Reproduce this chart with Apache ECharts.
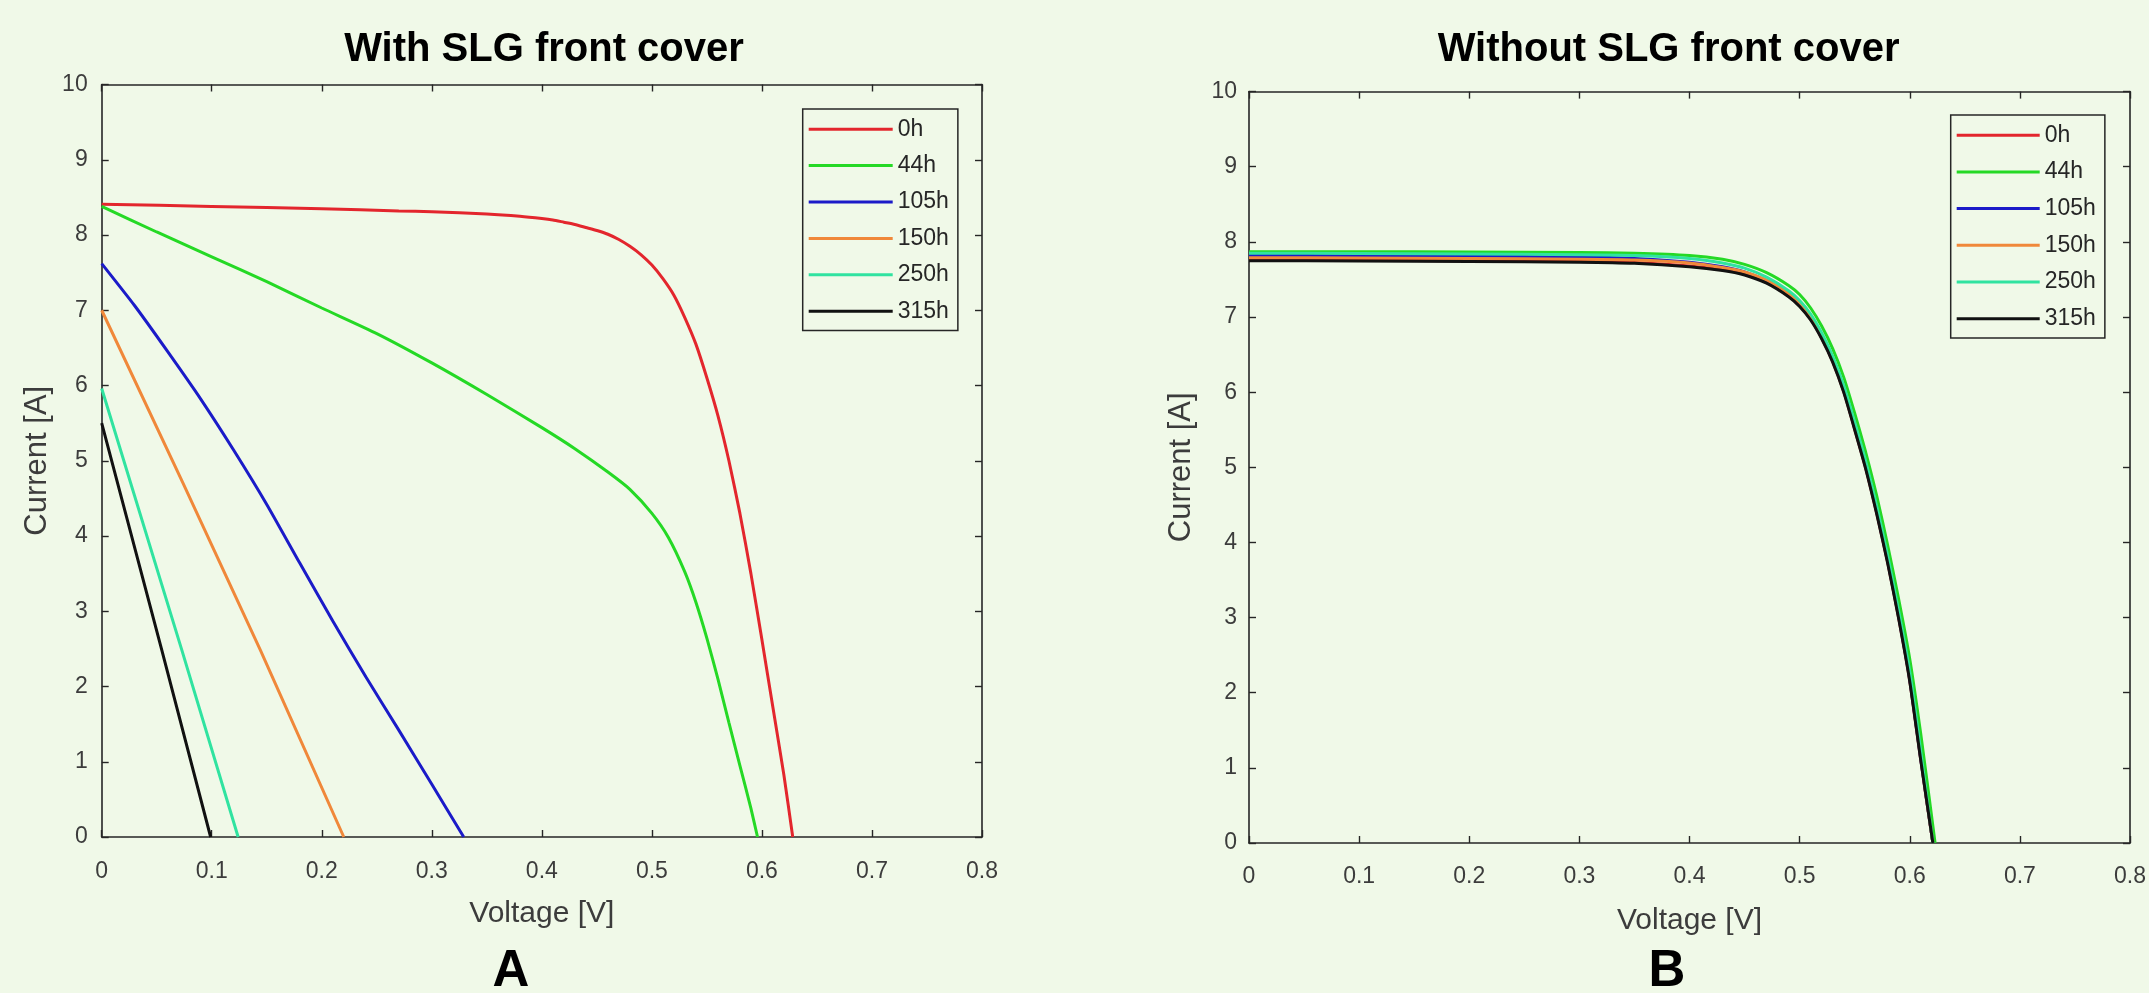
<!DOCTYPE html>
<html>
<head>
<meta charset="utf-8">
<script src="https://cdn.jsdelivr.net/npm/echarts@6/dist/echarts.min.js"></script>
<style>
html,body{margin:0;padding:0;background:#f0f9e8;}
#c{width:2149px;height:993px;}
</style>
</head>
<body>
<div id="c"></div>
<script>
// ---------- data ----------
const seriesNames = ['0h', '44h', '105h', '150h', '250h', '315h'];
const seriesColors = ['#e3262d', '#25d925', '#1b1bc8', '#f0883a', '#30e3a0', '#111111'];

const xTickLabels = ['0', '0.1', '0.2', '0.3', '0.4', '0.5', '0.6', '0.7', '0.8'];
const yTickLabels = ['0', '1', '2', '3', '4', '5', '6', '7', '8', '9', '10'];

const panelTitles = ['With SLG front cover', 'Without SLG front cover'];
const panelLetters = ['A', 'B'];
const xAxisName = 'Voltage [V]';
const yAxisName = 'Current [A]';

// Panel A (with SLG front cover)
const aV_0h   = [0, 0.1, 0.2, 0.27, 0.3, 0.35, 0.38, 0.40, 0.41, 0.42, 0.43, 0.44, 0.45, 0.46, 0.47, 0.48, 0.49, 0.50, 0.51, 0.52, 0.53, 0.54, 0.55, 0.56, 0.57, 0.58, 0.59, 0.60, 0.61, 0.62, 0.628];
const aI_0h   = [8.41, 8.38, 8.35, 8.32, 8.31, 8.28, 8.25, 8.22, 8.20, 8.17, 8.14, 8.10, 8.06, 8.01, 7.94, 7.85, 7.74, 7.60, 7.42, 7.20, 6.90, 6.55, 6.10, 5.60, 5.00, 4.30, 3.50, 2.62, 1.72, 0.82, 0];
const aV_44h  = [0, 0.05, 0.1, 0.15, 0.2, 0.25, 0.3, 0.35, 0.4, 0.43, 0.46, 0.48, 0.50, 0.515, 0.53, 0.54, 0.55, 0.56, 0.57, 0.58, 0.59, 0.596];
const aI_44h  = [8.38, 8.04, 7.71, 7.38, 7.03, 6.69, 6.30, 5.88, 5.44, 5.16, 4.85, 4.62, 4.30, 3.98, 3.52, 3.12, 2.64, 2.10, 1.52, 0.95, 0.38, 0];
const aV_105h = [0, 0.03, 0.06, 0.09, 0.12, 0.15, 0.18, 0.21, 0.24, 0.27, 0.30, 0.329];
const aI_105h = [7.62, 7.06, 6.45, 5.82, 5.14, 4.42, 3.64, 2.87, 2.13, 1.42, 0.70, 0];
const aV_150h = [0, 0.074, 0.144, 0.22];
const aI_150h = [7.0, 4.70, 2.49, 0];
const aV_250h = [0, 0.0727, 0.124];
const aI_250h = [5.96, 2.49, 0];
const aV_315h = [0, 0.0545, 0.099];
const aI_315h = [5.5, 2.49, 0];

// Panel B (without SLG front cover)
const bV_common = [0, 0.1, 0.2, 0.3, 0.35, 0.4, 0.43, 0.45, 0.47, 0.49, 0.50, 0.51, 0.52, 0.53, 0.54, 0.55, 0.56, 0.57, 0.58, 0.59, 0.60, 0.61, 0.621];
const bV_44h    = [0, 0.1, 0.2, 0.3, 0.35, 0.4, 0.43, 0.45, 0.47, 0.49, 0.50, 0.51, 0.52, 0.53, 0.54, 0.55, 0.56, 0.57, 0.58, 0.59, 0.60, 0.61, 0.623];
const bI_0h   = [7.76, 7.755, 7.75, 7.74, 7.725, 7.68, 7.63, 7.57, 7.46, 7.28, 7.15, 6.97, 6.72, 6.41, 6.01, 5.51, 4.99, 4.39, 3.73, 2.99, 2.16, 1.11, 0];
const bI_44h  = [7.87, 7.87, 7.865, 7.86, 7.85, 7.82, 7.77, 7.70, 7.59, 7.42, 7.30, 7.12, 6.88, 6.58, 6.20, 5.72, 5.20, 4.62, 3.96, 3.24, 2.45, 1.45, 0];
const bI_105h = [7.82, 7.815, 7.81, 7.80, 7.78, 7.73, 7.67, 7.60, 7.48, 7.30, 7.17, 6.99, 6.74, 6.43, 6.03, 5.53, 5.01, 4.41, 3.75, 3.01, 2.18, 1.12, 0];
const bI_150h = [7.79, 7.785, 7.78, 7.77, 7.76, 7.72, 7.66, 7.60, 7.49, 7.31, 7.19, 7.01, 6.76, 6.45, 6.05, 5.55, 5.03, 4.43, 3.77, 3.03, 2.20, 1.14, 0];
const bI_250h = [7.85, 7.845, 7.84, 7.83, 7.82, 7.78, 7.72, 7.65, 7.53, 7.35, 7.22, 7.04, 6.79, 6.48, 6.09, 5.60, 5.08, 4.48, 3.82, 3.08, 2.28, 1.22, 0];
const bI_315h = [7.75, 7.745, 7.74, 7.73, 7.715, 7.67, 7.62, 7.56, 7.45, 7.27, 7.14, 6.96, 6.71, 6.40, 6.00, 5.50, 4.98, 4.38, 3.72, 2.98, 2.15, 1.10, 0];

// ---------- helpers ----------
const FONT = '"Liberation Sans", Arial, Helvetica, sans-serif';
const AXIS_COLOR = '#262626';
const LABEL_COLOR = '#3c3c3c';
const BG = '#f0f9e8';

function pairs(vs, is) { return vs.map((v, k) => [v, is[k]]); }

const panelA = [pairs(aV_0h, aI_0h), pairs(aV_44h, aI_44h), pairs(aV_105h, aI_105h),
                pairs(aV_150h, aI_150h), pairs(aV_250h, aI_250h), pairs(aV_315h, aI_315h)];
const panelB = [pairs(bV_common, bI_0h), pairs(bV_44h, bI_44h), pairs(bV_common, bI_105h),
                pairs(bV_common, bI_150h), pairs(bV_common, bI_250h), pairs(bV_common, bI_315h)];
const smoothA = [0.2, 0.2, 0.2, 0, 0, 0];
const smoothB = [0.2, 0.2, 0.2, 0.2, 0.2, 0.2];

const grids = [
  { left: 101.7, top: 84.5, width: 880.3, height: 752.5 },
  { left: 1249, top: 91.6, width: 881, height: 751.4 }
];

const axisLineCfg = { show: true, onZero: false, lineStyle: { color: AXIS_COLOR, width: 1.6 } };
const tickCfg = { show: true, inside: true, length: 7, lineStyle: { color: AXIS_COLOR, width: 1.4 } };

function xMain(gi, nameGap, margin) {
  return {
    type: 'value', gridIndex: gi, position: 'bottom', min: 0, max: 0.8, interval: 0.1,
    name: xAxisName, nameLocation: 'middle', nameGap: nameGap,
    nameTextStyle: { fontFamily: FONT, fontSize: 30, color: LABEL_COLOR },
    axisLine: axisLineCfg, axisTick: tickCfg, splitLine: { show: false },
    axisLabel: { fontFamily: FONT, fontSize: 23, color: LABEL_COLOR, margin: margin,
                 formatter: (v, i) => xTickLabels[i] }
  };
}
function xTop(gi) {
  return {
    type: 'value', gridIndex: gi, position: 'top', min: 0, max: 0.8, interval: 0.1,
    axisLine: axisLineCfg, axisTick: tickCfg, splitLine: { show: false }, axisLabel: { show: false }
  };
}
function yMain(gi, nameGap, margin) {
  return {
    type: 'value', gridIndex: gi, position: 'left', min: 0, max: 10, interval: 1,
    name: yAxisName, nameLocation: 'middle', nameGap: nameGap,
    nameTextStyle: { fontFamily: FONT, fontSize: 31, color: LABEL_COLOR },
    axisLine: axisLineCfg, axisTick: tickCfg, splitLine: { show: false },
    axisLabel: { fontFamily: FONT, fontSize: 23, color: LABEL_COLOR, margin: margin,
                 formatter: (v, i) => yTickLabels[i] }
  };
}
function yRight(gi) {
  return {
    type: 'value', gridIndex: gi, position: 'right', min: 0, max: 10, interval: 1,
    axisLine: axisLineCfg, axisTick: tickCfg, splitLine: { show: false }, axisLabel: { show: false }
  };
}

const series = [];
[panelA, panelB].forEach((panel, p) => {
  const sm = p === 0 ? smoothA : smoothB;
  panel.forEach((data, k) => {
    series.push({
      type: 'line', name: seriesNames[k], xAxisIndex: p, yAxisIndex: p,
      data: data, showSymbol: false, symbol: 'none', smooth: sm[k] || false,
      lineStyle: { color: seriesColors[k], width: 3 }, itemStyle: { color: seriesColors[k] },
      z: 2 + k, silent: true
    });
  });
});

function legendCfg(left, top, itemWidth, itemGap) {
  return {
    orient: 'vertical', left: left, top: top, data: seriesNames,
    icon: 'rect', itemWidth: itemWidth, itemHeight: 3, itemGap: itemGap,
    padding: [7, 9, 6, 6], borderColor: AXIS_COLOR, borderWidth: 1.5, backgroundColor: 'transparent',
    textStyle: { fontFamily: FONT, fontSize: 23, color: '#262626', lineHeight: 26.4 },
    selectedMode: false
  };
}

const option = {
  backgroundColor: BG,
  animation: false,
  grid: grids.map(g => Object.assign({ containLabel: false }, g)),
  xAxis: [xMain(0, 62, 23), xMain(1, 63, 22), xTop(0), xTop(1)],
  yAxis: [yMain(0, 49, 14), yMain(1, 52, 12), yRight(0), yRight(1)],
  legend: [legendCfg(802.7, 109, 84, 10), legendCfg(1950.7, 115, 83, 10.3)],
  series: series,
  graphic: [
    { type: 'text', x: 544, y: 50, style: { text: panelTitles[0], font: 'bold 40px ' + FONT, fill: '#000', align: 'center', verticalAlign: 'middle' } },
    { type: 'text', x: 1668.6, y: 50, style: { text: panelTitles[1], font: 'bold 40px ' + FONT, fill: '#000', align: 'center', verticalAlign: 'middle' } },
    { type: 'text', x: 511, y: 972, style: { text: panelLetters[0], font: 'bold 51px ' + FONT, fill: '#000', align: 'center', verticalAlign: 'middle' } },
    { type: 'text', x: 1667, y: 972, style: { text: panelLetters[1], font: 'bold 51px ' + FONT, fill: '#000', align: 'center', verticalAlign: 'middle' } }
  ]
};

const chart = echarts.init(document.getElementById('c'), null, { renderer: 'canvas' });
chart.setOption(option);
</script>
</body>
</html>
